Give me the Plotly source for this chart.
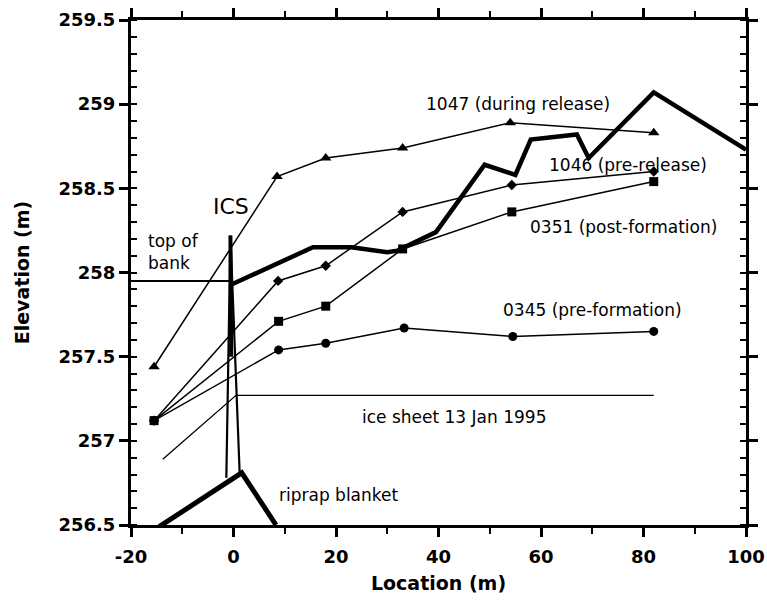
import plotly.graph_objects as go

# ---- data ----
loc_1047 = [-15.5, 8.5, 18, 33, 54, 82]
elev_1047 = [257.44, 258.57, 258.68, 258.74, 258.89, 258.83]

loc_1046 = [-15.5, 8.7, 18, 33, 54.3, 82]
elev_1046 = [257.12, 257.95, 258.04, 258.36, 258.52, 258.60]

loc_0351 = [-15.5, 8.8, 18, 33, 54.3, 82]
elev_0351 = [257.12, 257.71, 257.80, 258.14, 258.36, 258.54]

loc_0345 = [-15.5, 8.8, 18, 33.3, 54.5, 82]
elev_0345 = [257.12, 257.54, 257.58, 257.67, 257.62, 257.65]

bank_x = [-20, -0.3]
bank_y = [257.95, 257.95]

profile_x = [-0.3, 15.5, 23, 30, 32, 39.5, 49, 55, 58, 67, 69.3, 82, 100]
profile_y = [257.93, 258.15, 258.15, 258.12, 258.13, 258.24, 258.64, 258.58, 258.79, 258.82, 258.68, 259.07, 258.73]

ice_x = [-13.8, 0.5, 82]
ice_y = [256.89, 257.27, 257.27]

ics_x = [-1.4, -0.6, 1.2]
ics_y = [256.78, 258.22, 256.81]
ics_top_x = [-0.6, -0.45]
ics_top_y = [258.22, 257.5]

riprap_x = [-14.5, 1.6, 8.3]
riprap_y = [256.49, 256.81, 256.5]

x_ticks = [-20, 0, 20, 40, 60, 80, 100]
x_ticktext = ["-20", "0", "20", "40", "60", "80", "100"]
y_ticks = [256.5, 257, 257.5, 258, 258.5, 259, 259.5]
y_ticktext = ["256.5", "257", "257.5", "258", "258.5", "259", "259.5"]

labels = ["1047 (during release)", "1046 (pre-release)", "0351 (post-formation)",
          "0345 (pre-formation)", "ice sheet 13 Jan 1995", "riprap blanket"]
label_x = [55.6, 76.9, 76.1, 70.0, 43.1, 20.6]
label_y = [259.0, 258.64, 258.27, 257.78, 257.14, 256.68]

fig = go.Figure()

def line(x, y, w, **kw):
    fig.add_trace(go.Scatter(x=x, y=y, mode="lines", line=dict(color="black", width=w),
                             showlegend=False, hoverinfo="skip", **kw))

line(bank_x, bank_y, 2)
line(ice_x, ice_y, 1.3)
line(ics_x, ics_y, 2.2)
line(ics_top_x, ics_top_y, 4)
line(riprap_x, riprap_y, 5)
line(profile_x, profile_y, 4.5)

def series(x, y, sym, size):
    fig.add_trace(go.Scatter(x=x, y=y, mode="lines+markers",
                             line=dict(color="black", width=1.5),
                             marker=dict(symbol=sym, size=size, color="black"),
                             showlegend=False, hoverinfo="skip"))

series(loc_1047, elev_1047, "triangle-up", 10)
series(loc_1046, elev_1046, "diamond", 8)
series(loc_0351, elev_0351, "square", 9)
series(loc_0345, elev_0345, "circle", 9)

ann_font = dict(family="DejaVu Sans", size=17, color="black")
for t, lx, ly in zip(labels, label_x, label_y):
    fig.add_annotation(x=lx, y=ly, text=t, showarrow=False, font=ann_font)
fig.add_annotation(x=-17.1, y=258.12, text="top of<br>bank", showarrow=False,
                   xanchor="left", align="left", font=ann_font)
fig.add_annotation(x=-0.5, y=258.39, text="ICS", showarrow=False,
                   font=dict(family="DejaVu Sans", size=22, color="black"))

tick_font = dict(family="DejaVu Sans", size=18, color="black", weight="bold")
title_font = dict(family="DejaVu Sans", size=19, color="black", weight="bold")

fig.update_xaxes(range=[-20, 100], tickvals=x_ticks, ticktext=x_ticktext, automargin=False,
                 showgrid=False, zeroline=False, showline=True, linecolor="black",
                 linewidth=3, mirror="allticks", ticks="outside", ticklen=9,
                 tickwidth=3, tickcolor="black", tickfont=tick_font, ticklabelstandoff=4,
                 minor=dict(dtick=10, ticks="outside", ticklen=6, tickwidth=2, tickcolor="black"),
                 title=dict(text="Location (m)", font=title_font, standoff=12))
fig.update_yaxes(range=[256.5, 259.5], tickvals=y_ticks, ticktext=y_ticktext, automargin=False,
                 showgrid=False, zeroline=False, showline=True, linecolor="black",
                 linewidth=3, mirror="allticks", ticks="outside", ticklen=9,
                 tickwidth=3, tickcolor="black", tickfont=tick_font,
                 minor=dict(dtick=0.1, ticks="inside", ticklen=6, tickwidth=2, tickcolor="black"),
                 title=dict(text="Elevation (m)", font=title_font, standoff=24))

fig.update_layout(width=767, height=601, margin=dict(l=131, r=21, t=20, b=76),
                  plot_bgcolor="white", paper_bgcolor="white")

fig.write_html("out.html")
